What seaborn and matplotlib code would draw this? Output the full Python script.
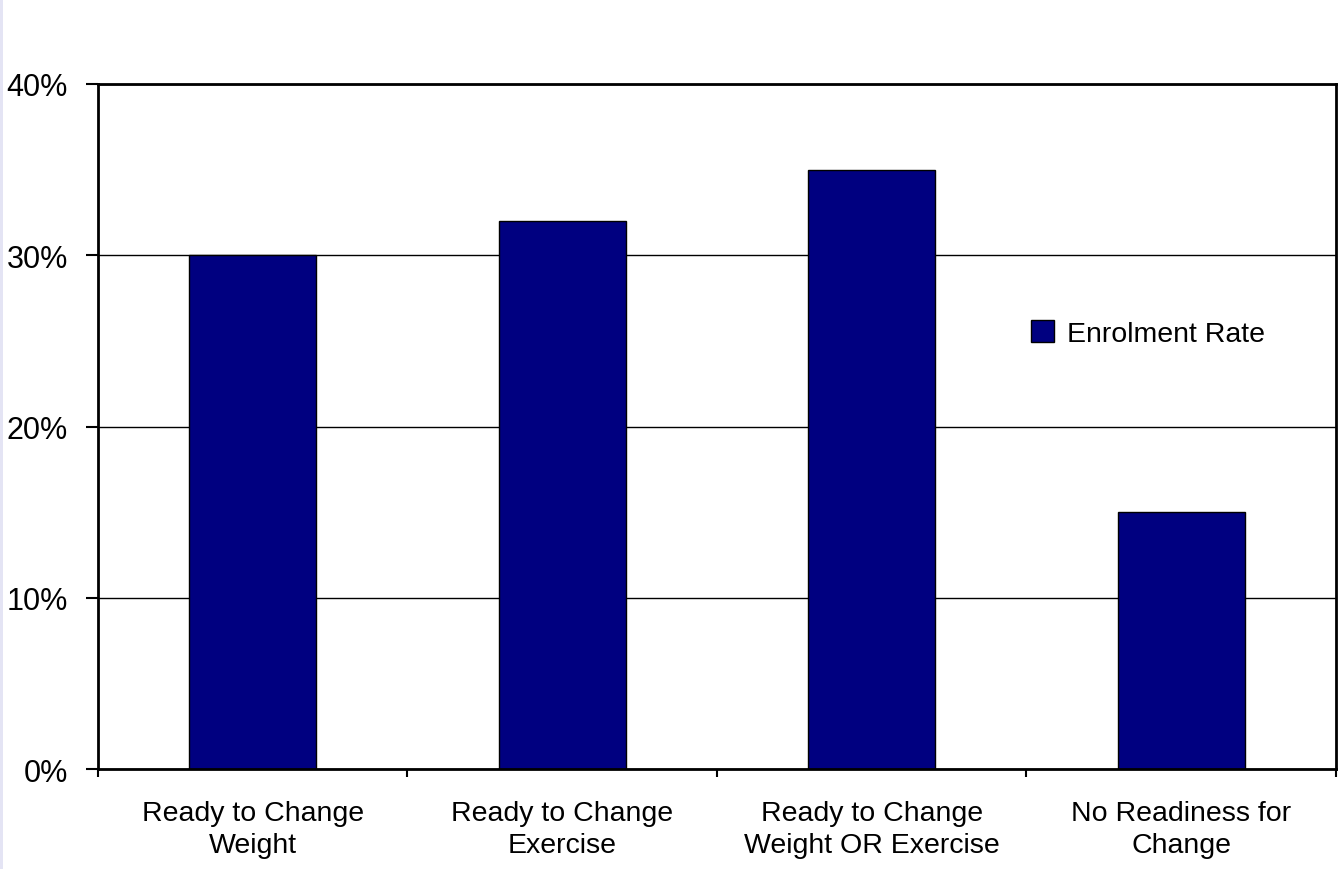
import matplotlib
matplotlib.use("Agg")
import matplotlib.pyplot as plt
from matplotlib.patches import Rectangle
from matplotlib.ticker import FixedLocator, PercentFormatter
import seaborn as sns
import pandas as pd

categories = [
    "Ready to Change\nWeight",
    "Ready to Change\nExercise",
    "Ready to Change\nWeight OR Exercise",
    "No Readiness for\nChange",
]
enrolment_rate = [30, 32, 35, 15]
series_name = "Enrolment Rate"
y_ticks = [0, 10, 20, 30, 40]

sns.set_theme(style="white")
plt.rcParams["font.family"] = ["Liberation Sans", "DejaVu Sans"]
plt.rcParams["text.color"] = "black"
plt.rcParams["xtick.color"] = "black"
plt.rcParams["ytick.color"] = "black"

df = pd.DataFrame({"category": categories, "rate": enrolment_rate})

fig = plt.figure(figsize=(13.38, 8.70), dpi=100)
fig.patch.set_facecolor("white")
ax = fig.add_axes([0.0732, 0.1149, 0.9253, 0.7874])

sns.barplot(data=df, x="category", y="rate", color="#000080", saturation=1,
            width=0.41, edgecolor="black", linewidth=1.0, label=series_name, ax=ax)

ax.set_xlim(-0.5, len(categories) - 0.5)
ax.set_ylim(0, 40)
ax.set_yticks(y_ticks)
ax.yaxis.set_major_formatter(PercentFormatter(decimals=0))
ax.yaxis.grid(True, color="black", linewidth=1.0)
ax.set_axisbelow(True)

# category labels centred, boundary ticks between categories
ax.set_xticks(range(len(categories)), labels=categories, linespacing=1.3)
ax.tick_params(axis="x", which="major", length=0, pad=22, labelsize=20.5,
               labelcolor="black")
ax.xaxis.set_minor_locator(FixedLocator([i - 0.5 for i in range(len(categories) + 1)]))
ax.tick_params(axis="x", which="minor", direction="out", length=6, width=1.5,
               color="black", bottom=True)
ax.tick_params(axis="y", direction="out", length=8.5, width=1.5, color="black",
               left=True, pad=13, labelsize=22, labelcolor="black")

ax.set_xlabel("")
ax.set_ylabel("")
for sp in ax.spines.values():
    sp.set_visible(True)
    sp.set_color("black")
    sp.set_linewidth(2.0)

ax.legend(loc="center", bbox_to_anchor=(0.848, 0.636), frameon=False,
          fontsize=20.5, handlelength=0.8, handleheight=0.8, handletextpad=0.45,
          labelcolor="black")

fig.patches.append(Rectangle((0, 0), 3 / 1338, 1, transform=fig.transFigure,
                             facecolor="#e4e4f4", edgecolor="none"))

fig.savefig("out.png", dpi=100, facecolor="white")
